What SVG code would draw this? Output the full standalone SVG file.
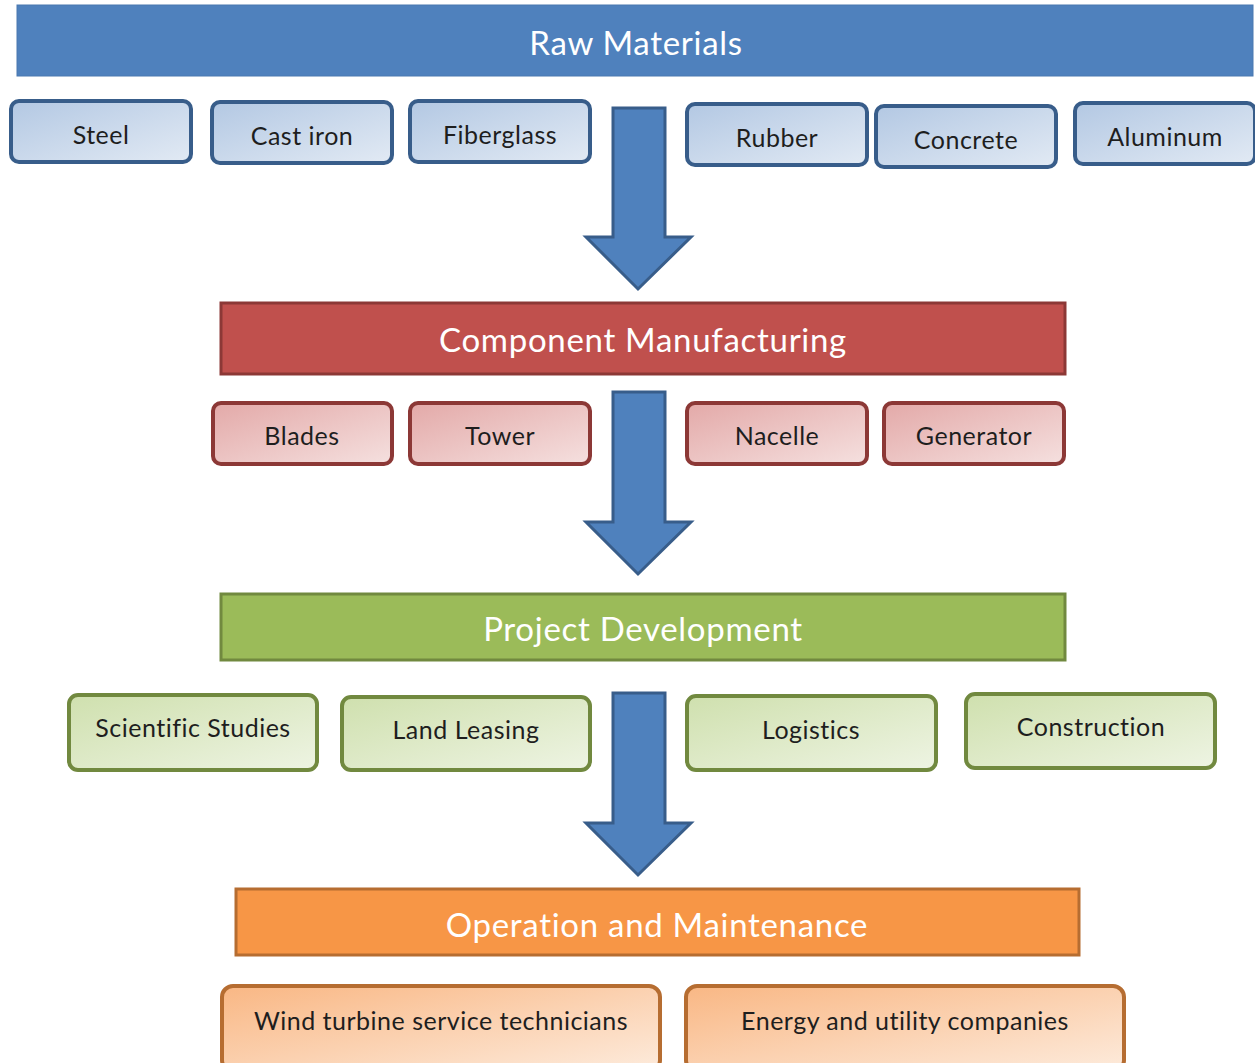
<svg xmlns="http://www.w3.org/2000/svg" width="1255" height="1063" viewBox="0 0 1255 1063">
<defs>
<linearGradient id="gB" x1="0" y1="0" x2="1" y2="1"><stop offset="0" stop-color="#B3C8E3"/><stop offset="1" stop-color="#E2EAF4"/></linearGradient>
<linearGradient id="gR" x1="0" y1="0" x2="1" y2="1"><stop offset="0" stop-color="#E3A9A8"/><stop offset="1" stop-color="#F5E0DF"/></linearGradient>
<linearGradient id="gG" x1="0" y1="0" x2="1" y2="1"><stop offset="0" stop-color="#CFE0AE"/><stop offset="1" stop-color="#EEF4E3"/></linearGradient>
<linearGradient id="gO" x1="0" y1="0" x2="1" y2="1"><stop offset="0" stop-color="#F9B784"/><stop offset="1" stop-color="#FDEBDC"/></linearGradient>
<style>
.t{font-family:Lato,"Open Sans","Liberation Sans",sans-serif;text-anchor:middle}
.title{font-size:33px;fill:#FFFFFF;letter-spacing:0.7px}
.lbl{font-size:25px;fill:#1E1E1E;letter-spacing:0.5px}
.b{fill:url(#gB);stroke:#385D8A;stroke-width:4}
.r{fill:url(#gR);stroke:#8C3836;stroke-width:4}
.g{fill:url(#gG);stroke:#71893F;stroke-width:4}
.o{fill:url(#gO);stroke:#B66D31;stroke-width:4}
.arrow{fill:#4F81BD;stroke:#385D8A;stroke-width:3;stroke-linejoin:miter}
</style>
</defs>

<g id="raw-materials">
<rect x="17" y="5" width="1236" height="71" fill="#4F81BD" stroke="#4A78B0" stroke-width="1"/>
<text class="t title" x="636" y="55">Raw Materials</text>
</g>
<g id="steel"><rect class="b" x="11" y="101" width="180" height="61" rx="8"/><text class="t lbl" x="101" y="144">Steel</text></g>
<g id="cast-iron"><rect class="b" x="212" y="102" width="180" height="61" rx="8"/><text class="t lbl" x="302" y="145">Cast iron</text></g>
<g id="fiberglass"><rect class="b" x="410" y="101" width="180" height="61" rx="8"/><text class="t lbl" x="500" y="144">Fiberglass</text></g>
<g id="rubber"><rect class="b" x="687" y="104" width="180" height="61" rx="8"/><text class="t lbl" x="777" y="147">Rubber</text></g>
<g id="concrete"><rect class="b" x="876" y="106" width="180" height="61" rx="8"/><text class="t lbl" x="966" y="149">Concrete</text></g>
<g id="aluminum"><rect class="b" x="1075" y="103" width="180" height="61" rx="8"/><text class="t lbl" x="1165" y="146">Aluminum</text></g>

<g id="component-manufacturing">
<rect x="221" y="303" width="844" height="71" fill="#C0504D" stroke="#8C3836" stroke-width="3"/>
<text class="t title" x="643" y="352">Component Manufacturing</text>
</g>
<g id="blades"><rect class="r" x="213" y="403" width="179" height="61" rx="8"/><text class="t lbl" x="302" y="445">Blades</text></g>
<g id="tower"><rect class="r" x="410" y="403" width="180" height="61" rx="8"/><text class="t lbl" x="500" y="445">Tower</text></g>
<g id="nacelle"><rect class="r" x="687" y="403" width="180" height="61" rx="8"/><text class="t lbl" x="777" y="445">Nacelle</text></g>
<g id="generator"><rect class="r" x="884" y="403" width="180" height="61" rx="8"/><text class="t lbl" x="974" y="445">Generator</text></g>

<g id="project-development">
<rect x="221" y="594" width="844" height="66" fill="#9BBB59" stroke="#71893F" stroke-width="3"/>
<text class="t title" x="643" y="641">Project Development</text>
</g>
<g id="scientific-studies"><rect class="g" x="69" y="695" width="248" height="75" rx="9"/><text class="t lbl" x="193" y="737">Scientific Studies</text></g>
<g id="land-leasing"><rect class="g" x="342" y="697" width="248" height="73" rx="9"/><text class="t lbl" x="466" y="739">Land Leasing</text></g>
<g id="logistics"><rect class="g" x="687" y="696" width="249" height="74" rx="9"/><text class="t lbl" x="811" y="739">Logistics</text></g>
<g id="construction"><rect class="g" x="966" y="694" width="249" height="74" rx="9"/><text class="t lbl" x="1091" y="736">Construction</text></g>

<g id="operation-and-maintenance">
<rect x="236" y="889" width="843" height="66" fill="#F79646" stroke="#B66D31" stroke-width="3"/>
<text class="t title" x="657" y="937">Operation and Maintenance</text>
</g>
<g id="wind-turbine-service-technicians"><rect class="o" x="222" y="986" width="438" height="85" rx="11"/><text class="t lbl" x="441" y="1030">Wind turbine service technicians</text></g>
<g id="energy-and-utility-companies"><rect class="o" x="686" y="986" width="438" height="85" rx="11"/><text class="t lbl" x="905" y="1030">Energy and utility companies</text></g>

<g id="connectors">
<polygon class="arrow" points="613,108 665,108 665,237 691,237 638,289 586,237 613,237"/>
<polygon class="arrow" points="613,392 665,392 665,522 691,522 638,574 586,522 613,522"/>
<polygon class="arrow" points="613,693 665,693 665,823 691,823 638,875 586,823 613,823"/>
</g>
</svg>
